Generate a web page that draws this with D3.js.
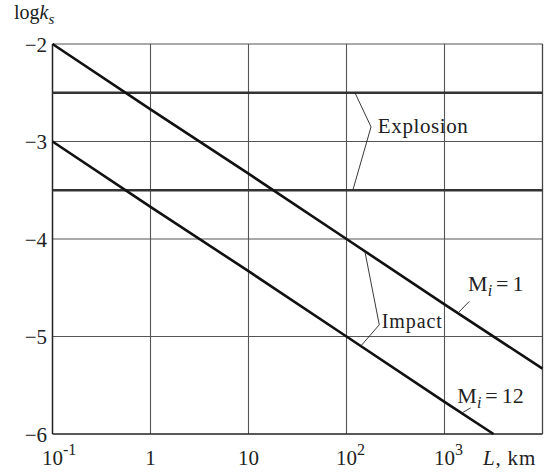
<!DOCTYPE html>
<html>
<head>
<meta charset="utf-8">
<script src="https://cdn.jsdelivr.net/npm/d3@7"></script>
<style>
  body { margin: 0; background: #fff; }
  svg text { font-family: "Liberation Serif", "DejaVu Serif", serif; fill: #222; }
</style>
</head>
<body>
<svg id="chart" width="545" height="474"></svg>
<script>
// decade ticks on the L axis and level ticks on log k_s
const xTicks = [0.1, 1, 10, 100, 1000];
const xTickLabels = [['10', '-1'], ['1', ''], ['10', ''], ['10', '2'], ['10', '3']];
const yTicks = [-6, -5, -4, -3, -2];
const xGrid = [1, 10, 100, 1000];

// Impact lines (L in km, log k_s)
const impactM1 = [[0.1, -2], [1, -2.67], [10, -3.33], [100, -4], [1000, -4.67], [10000, -5.33]];
const impactM12 = [[0.1, -3], [1, -3.67], [10, -4.33], [100, -5], [1000, -5.67], [3162, -6]];
// Explosion levels
const explosionLevels = [-2.5, -3.5];

// annotation leaders (data coordinates)
const explosionBrace = [[122, -2.5], [178, -2.85], [116, -3.5]];
const impactBrace = [[154, -4.126], [216, -4.88], [140, -5.097]];
const m1Tick = [[1374, -4.759], [1790, -4.64]];
const m12Tick = [[1500, -5.784], [1850, -5.733]];

let svg = d3.select('#chart');
let pLeft = 52.5, pRight = 542.5, pTop = 44, pBottom = 434;

let x = d3.scaleLog().domain([0.1, 10000]).range([pLeft, pRight]);
let y = d3.scaleLinear().domain([-6, -2]).range([pBottom, pTop]);

// grid
svg.append('g').selectAll('line').data(xGrid).enter().append('line')
  .attr('x1', d => x(d)).attr('x2', d => x(d))
  .attr('y1', pTop).attr('y2', pBottom)
  .attr('stroke', '#555').attr('stroke-width', 1.1);

svg.append('g').selectAll('line').data([-5, -4, -3, -2]).enter().append('line')
  .attr('x1', pLeft).attr('x2', pRight)
  .attr('y1', d => y(d)).attr('y2', d => y(d))
  .attr('stroke', '#555').attr('stroke-width', 1.1);

// frame
svg.append('line').attr('x1', pRight).attr('x2', pRight).attr('y1', pTop).attr('y2', pBottom)
  .attr('stroke', '#444').attr('stroke-width', 1.3);
svg.append('line').attr('x1', pLeft).attr('x2', pLeft).attr('y1', pTop).attr('y2', pBottom)
  .attr('stroke', '#222').attr('stroke-width', 1.5);
svg.append('line').attr('x1', pLeft).attr('x2', pRight).attr('y1', pBottom).attr('y2', pBottom)
  .attr('stroke', '#222').attr('stroke-width', 1.6);

// explosion levels
svg.append('g').selectAll('line').data(explosionLevels).enter().append('line')
  .attr('x1', pLeft).attr('x2', pRight)
  .attr('y1', d => y(d)).attr('y2', d => y(d))
  .attr('stroke', '#333').attr('stroke-width', 2.6);

// impact lines
let line = d3.line().x(d => x(d[0])).y(d => y(d[1]));
[impactM1, impactM12].forEach(function(s) {
  svg.append('path').datum(s).attr('d', line)
    .attr('fill', 'none').attr('stroke', '#111').attr('stroke-width', 2.6);
});

// leaders
[explosionBrace, impactBrace, m1Tick, m12Tick].forEach(function(s) {
  svg.append('path').datum(s).attr('d', line)
    .attr('fill', 'none').attr('stroke', '#222').attr('stroke-width', 0.9);
});

// y tick labels
svg.append('g').selectAll('text').data(yTicks).enter().append('text')
  .attr('x', 47).attr('y', d => y(d)).attr('dy', '0.36em')
  .attr('text-anchor', 'end').style('font-size', '21px')
  .text(d => '\u2212' + Math.abs(d));

// x tick labels
let xl = svg.append('g').selectAll('g').data(xTicks).enter().append('g');
xl.append('text')
  .attr('x', d => x(d)).attr('y', 465)
  .attr('text-anchor', 'middle').style('font-size', '21px')
  .text((d, i) => xTickLabels[i][0]);
xl.append('text')
  .attr('x', d => x(d) + 10.5).attr('y', 455)
  .style('font-size', '16px')
  .text((d, i) => xTickLabels[i][1]);

// axis titles
let xt = svg.append('text').attr('x', 483).attr('y', 465)
  .style('font-size', '21px').style('letter-spacing', '0.8px');
xt.append('tspan').style('font-style', 'italic').text('L');
xt.append('tspan').text(', km');

let yt = svg.append('text').attr('x', 14).attr('y', 19).style('font-size', '20px');
yt.append('tspan').text('log');
yt.append('tspan').style('font-style', 'italic').text('k');
yt.append('tspan').attr('dy', 5).style('font-style', 'italic').style('font-size', '15px').text('s');

// annotations
svg.append('text').attr('x', x(209)).attr('y', y(-2.91))
  .style('font-size', '21px').style('letter-spacing', '0.6px').text('Explosion');
svg.append('text').attr('x', x(229)).attr('y', y(-4.91))
  .style('font-size', '20px').style('letter-spacing', '0.9px').text('Impact');

function mLabel(xv, yv, n) {
  let t = svg.append('text').attr('x', x(xv)).attr('y', y(yv)).style('font-size', '22px');
  t.append('tspan').text('M');
  t.append('tspan').attr('dy', 5).style('font-style', 'italic').style('font-size', '16px').text('i');
  t.append('tspan').attr('dy', -5).attr('dx', 4).text('=');
  t.append('tspan').attr('dx', 4).text(n);
}
mLabel(1740, -4.53, '1');
mLabel(1352, -5.678, '12');
</script>
</body>
</html>
